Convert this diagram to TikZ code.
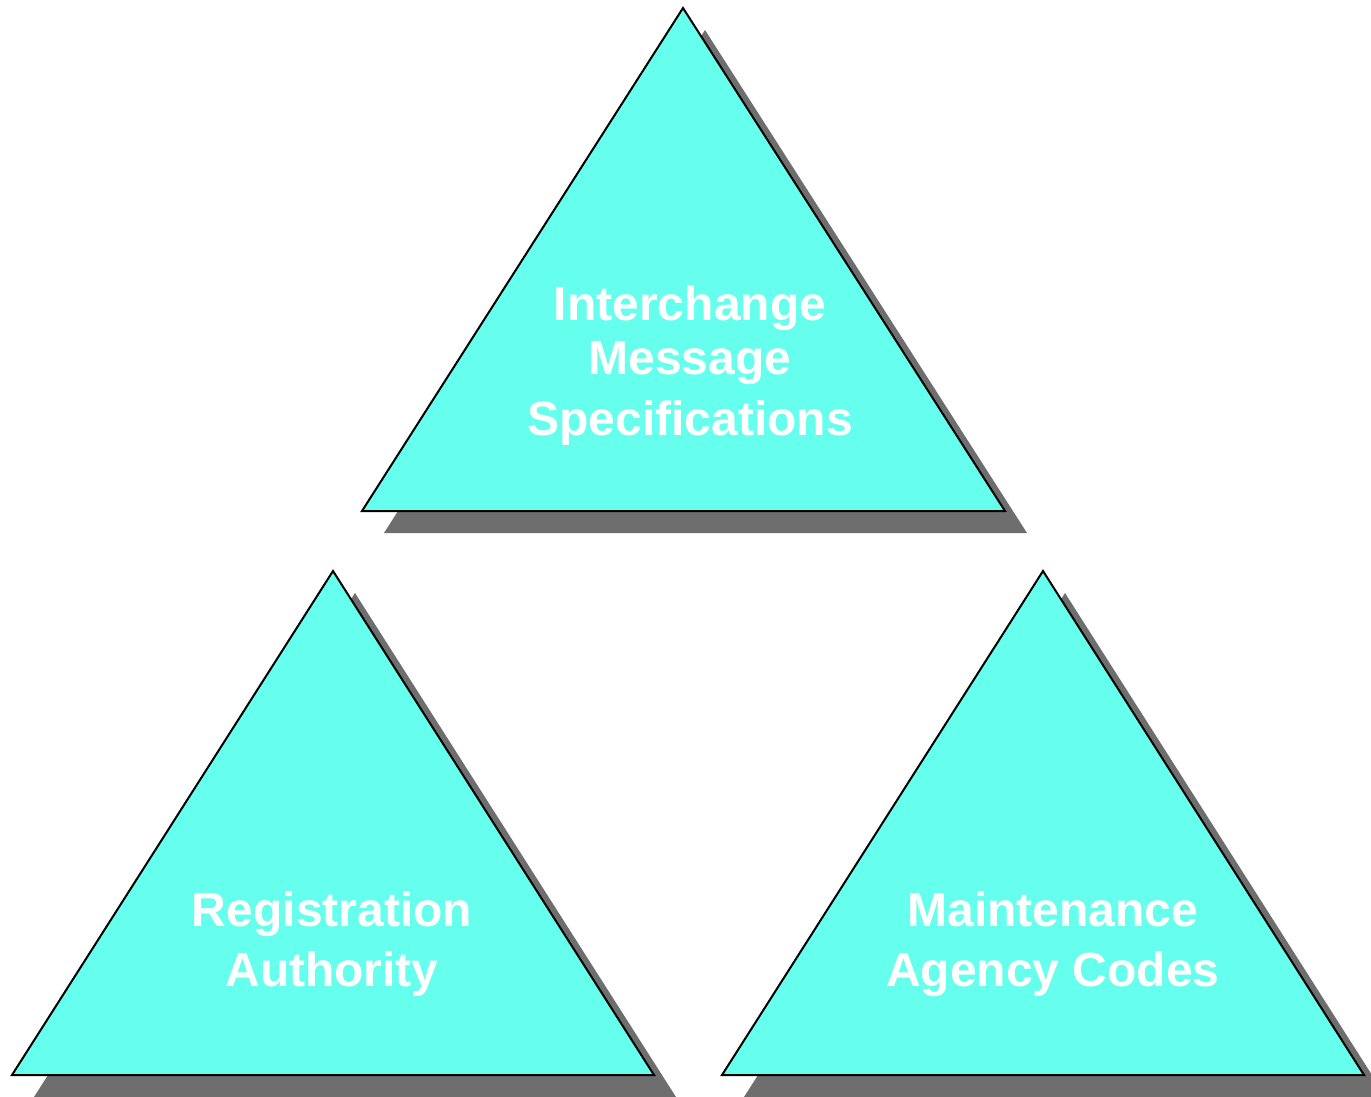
\documentclass[tikz,border=0pt]{standalone}
\usepackage{fontspec}
\setmainfont{Liberation Sans}
\definecolor{tricyan}{RGB}{102,255,238}
\definecolor{shadowgray}{RGB}{110,110,110}
\tikzset{
  tri/.style={fill=tricyan, draw=black, line width=2pt, line join=miter},
  lbl/.style={text=white, align=center, inner sep=0pt,
    font=\bfseries\fontsize{48}{54}\selectfont}
}
\begin{document}
\begin{tikzpicture}[x=1pt,y=-1pt]
\useasboundingbox (0,0) rectangle (1371,1096);

% shadows
\fill[shadowgray] (705,30) -- (384,533) -- (1027,533) -- cycle;
\fill[shadowgray] (355,593) -- (34,1097) -- (676,1097) -- cycle;
\fill[shadowgray] (1065,593) -- (744,1097) -- (1386,1097) -- cycle;

% triangles
\draw[tri] (683,8) -- (362,511) -- (1005,511) -- cycle;
\draw[tri] (333,571) -- (12,1075) -- (654,1075) -- cycle;
\draw[tri] (1043,571) -- (722,1075) -- (1364,1075) -- cycle;

% labels
\node[lbl] (ims) at (690,366) {Interchange\\Message\\[7pt]Specifications};
\node[lbl] (ra) at (332,944) {Registration\\[6pt]Authority};
\node[lbl] (mac) at (1053,944) {Maintenance\\[6pt]Agency Codes};
\end{tikzpicture}
\end{document}
